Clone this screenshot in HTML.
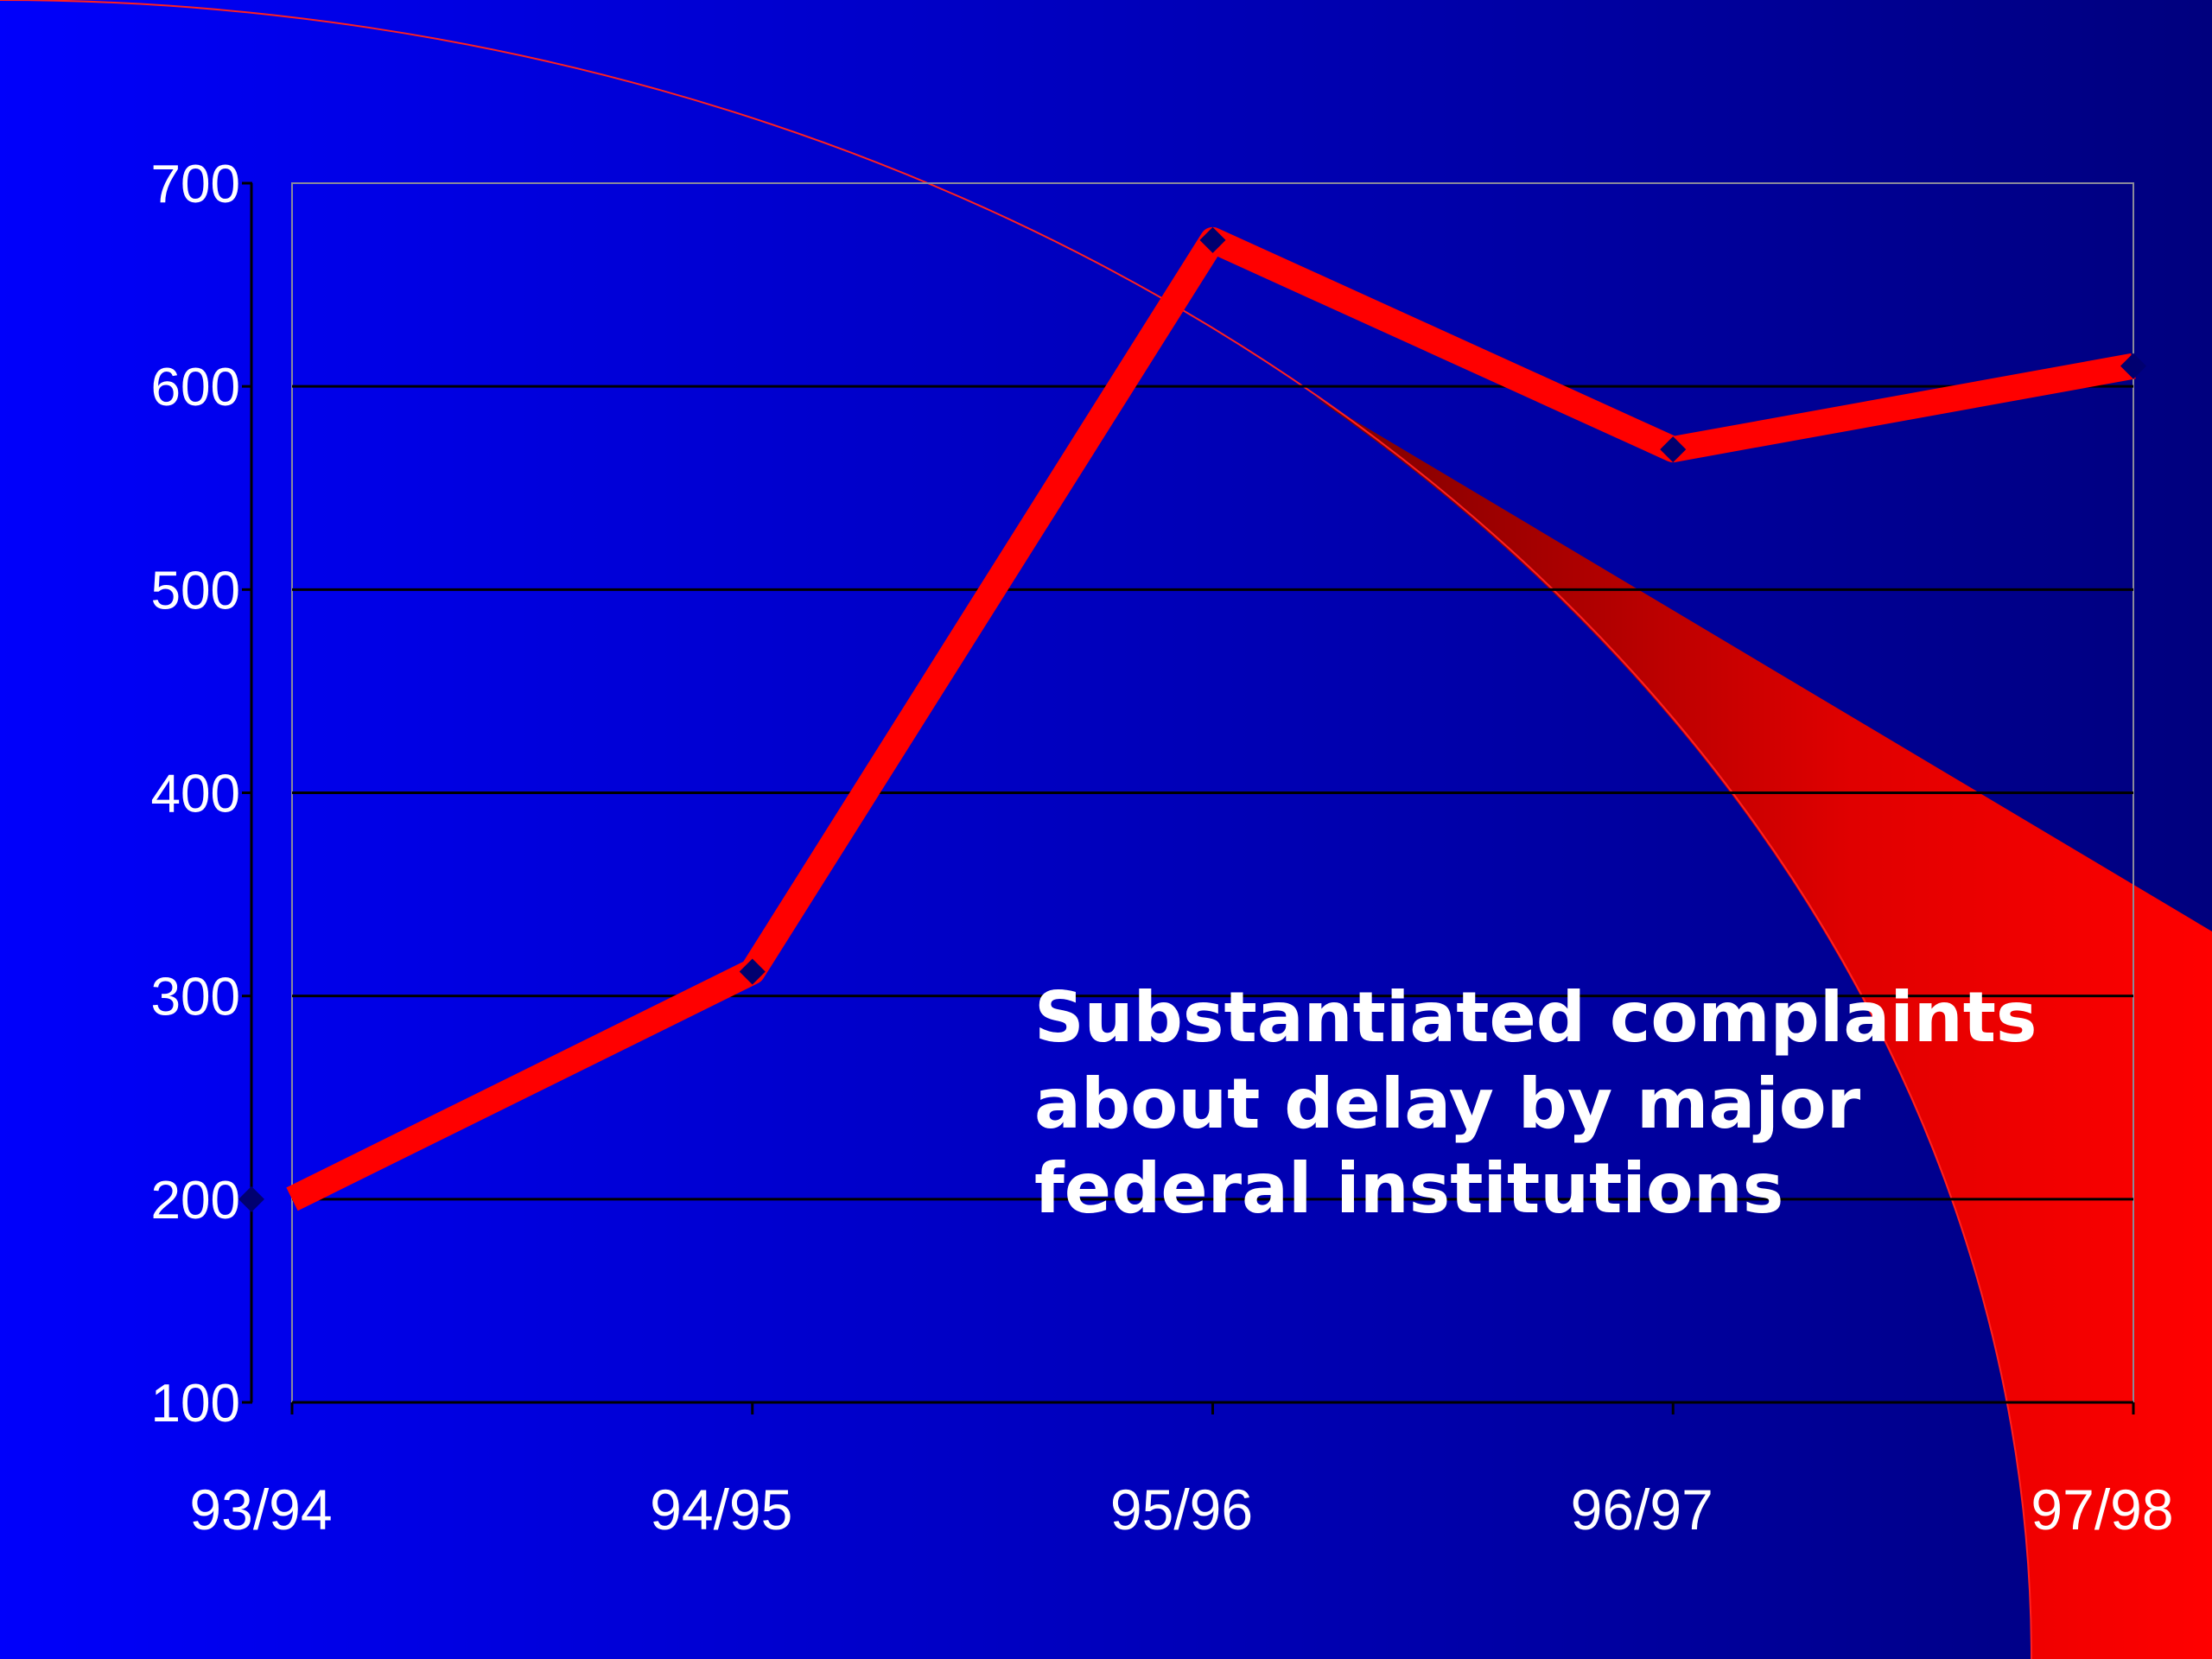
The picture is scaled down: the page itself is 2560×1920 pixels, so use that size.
<!DOCTYPE html>
<html><head><meta charset="utf-8"><style>
html,body{margin:0;padding:0;width:2560px;height:1920px;overflow:hidden}
</style></head><body>
<svg width="2560" height="1920" viewBox="0 0 2560 1920" xmlns="http://www.w3.org/2000/svg" id="svg">
<defs>
<linearGradient id="bg" x1="0" y1="0" x2="1" y2="0"><stop offset="0" stop-color="#0000fb"/><stop offset="1" stop-color="#00007e"/></linearGradient>
<linearGradient id="rd" x1="0" y1="0" x2="1" y2="0"><stop offset="0" stop-color="#7a0000"/><stop offset="0.6" stop-color="#e00000"/><stop offset="1" stop-color="#ff0000"/></linearGradient>
</defs>
<rect width="2560" height="1920" fill="url(#bg)"/>
<path d="M1518,457 L2560,1078 L2560,1920 L2351,1920 A2351 1920 0 0 0 1518,457 Z" fill="url(#rd)"/>
<path d="M0,0 A2351 1920 0 0 1 2351,1920" fill="none" stroke="#ff2020" stroke-width="2"/>
<g id="plot"></g>
<g font-family="'DejaVu Sans',sans-serif" font-weight="bold" font-size="80" fill="#fff">
<text x="1197" y="1205">Substantiated complaints</text>
<text x="1197" y="1305">about delay by major</text>
<text x="1197" y="1403">federal institutions</text>
</g>
</svg>
<script>
const categories = ["93/94","94/95","95/96","96/97","97/98"];
const values = [200, 312, 672, 569, 610];
const yTicks = [100,200,300,400,500,600,700];

const L=338, R=2469, T=212, B=1623, yMin=100, yMax=700;
const NS="http://www.w3.org/2000/svg";
const g=document.getElementById('plot');
function x(i){return L+(R-L)*i/(categories.length-1);}
function y(v){return B-(v-yMin)/(yMax-yMin)*(B-T);}
function mk(t,a){const e=document.createElementNS(NS,t);for(const k in a)e.setAttribute(k,a[k]);g.appendChild(e);return e;}

let fr=mk('rect',{x:L,y:T,width:R-L,height:B-T,fill:'none',stroke:'#8a8a9a','stroke-width':2});


yTicks.forEach(v=>{
  if(v>yMin&&v<yMax){let l=mk('line',{x1:L,x2:R,y1:y(v),y2:y(v),stroke:'#000','stroke-width':3});
  
  }
  let tk=mk('line',{x1:280,x2:292,y1:y(v),y2:y(v),stroke:'#000','stroke-width':3});
  
  
  let t=mk('text',{x:278,y:y(v)+22,'text-anchor':'end','font-family':'Liberation Sans, sans-serif','font-size':62,fill:'#fff'});
  t.textContent=v;
  
  
});
let ya=mk('line',{x1:291,x2:291,y1:T,y2:B,stroke:'#000','stroke-width':3});


let xa=mk('line',{x1:L,x2:R,y1:B,y2:B,stroke:'#000','stroke-width':3});


categories.forEach((c,i)=>{
  let tk=mk('line',{x1:x(i),x2:x(i),y1:B,y2:B+14,stroke:'#000','stroke-width':3});
  
  
  let t=mk('text',{x:x(i)-36,y:1770,'text-anchor':'middle','font-family':'Liberation Sans, sans-serif','font-size':66,fill:'#fff'});
  t.textContent=c;
  
  
});
let pts=values.map((v,i)=>x(i)+','+y(v)).join(' ');
let pl=mk('polyline',{points:pts,fill:'none',stroke:'#ff0000','stroke-width':30,'stroke-linejoin':'round'});


values.forEach((v,i)=>{
  const cx=i===0?x(i)-47:x(i), cy=y(v), s=15;
  let m=mk('polygon',{points:`${cx},${cy-s} ${cx+s},${cy} ${cx},${cy+s} ${cx-s},${cy}`,fill:'#000070'});
  
  
});
</script>
</body></html>
